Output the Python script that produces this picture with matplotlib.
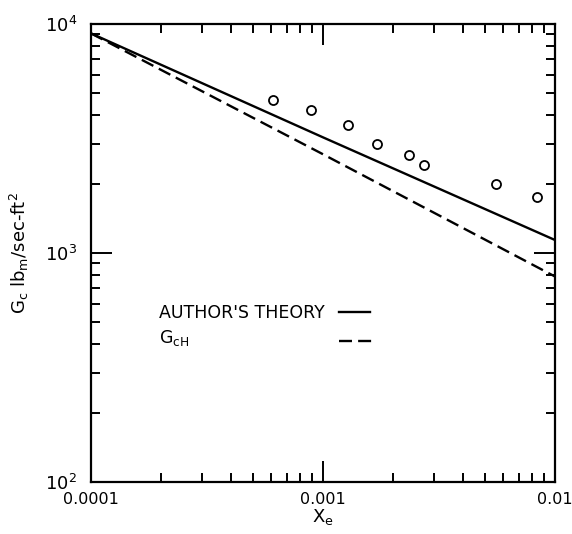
import matplotlib
matplotlib.use("Agg")
import matplotlib.pyplot as plt
from matplotlib.ticker import FixedLocator, FixedFormatter, LogLocator, NullFormatter

# Data
x_theory = [1e-4, 1e-3, 1e-2]
g_author = [9100, 3200, 1140]     # author's theory (solid)
g_ch = [9100, 2700, 790]          # G_cH (dashed)

x_exp = [6.07e-4, 8.93e-4, 1.28e-3, 1.71e-3, 2.35e-3, 2.74e-3, 5.55e-3, 8.4e-3]
g_exp = [4650, 4200, 3620, 3000, 2670, 2415, 2010, 1750]

x_ticks = [1e-4, 1e-3, 1e-2]
x_ticklabels = ["0.0001", "0.001", "0.01"]
y_ticks = [1e2, 1e3, 1e4]
y_ticklabels = [r"$10^2$", r"$10^3$", r"$10^4$"]

plt.rcParams["font.family"] = "DejaVu Sans"
plt.rcParams["font.size"] = 11.5

fig = plt.figure(figsize=(5.72, 5.34), dpi=100)
ax = fig.add_axes([0.159, 0.0974, 0.811, 0.8577])

ax.plot(x_theory, g_author, color="black", lw=1.7)
ax.plot(x_theory, g_ch, color="black", lw=1.7, dashes=(5.5, 2.6))
ax.plot(x_exp, g_exp, "o", mfc="white", mec="black", ms=6.5, mew=1.3, ls="none")

ax.set_xscale("log")
ax.set_yscale("log")
ax.set_xlim(1e-4, 1e-2)
ax.set_ylim(1e2, 1e4)

for s in ax.spines.values():
    s.set_linewidth(1.6)

ax.xaxis.set_major_locator(FixedLocator(x_ticks))
ax.xaxis.set_major_formatter(FixedFormatter(x_ticklabels))
ax.yaxis.set_major_locator(FixedLocator(y_ticks))
ax.yaxis.set_major_formatter(FixedFormatter(y_ticklabels))
ax.xaxis.set_minor_locator(LogLocator(base=10, subs=range(2, 10)))
ax.yaxis.set_minor_locator(LogLocator(base=10, subs=range(2, 10)))
ax.xaxis.set_minor_formatter(NullFormatter())
ax.yaxis.set_minor_formatter(NullFormatter())

ax.tick_params(which="both", direction="in", top=True, right=True, width=1.4, color="black")
ax.tick_params(which="major", length=15)
ax.tick_params(which="minor", length=6.5)
ax.tick_params(axis="x", which="major", pad=7)
ax.tick_params(axis="y", which="major", pad=10, labelsize=13)

ax.set_xlabel(r"X$_{\rm e}$", fontsize=13, labelpad=0)
ax.set_ylabel(r"G$_{\rm c}$ lb$_{\rm m}$/sec-ft$^2$", fontsize=13, labelpad=10)

# hand-drawn key, as in the original figure
ax.text(0.147, 0.369, "AUTHOR'S THEORY", transform=ax.transAxes, va="center", ha="left", fontsize=12.5)
ax.text(0.147, 0.315, r"G$_{\rm cH}$", transform=ax.transAxes, va="center", ha="left", fontsize=12.5)
ax.plot([0.534, 0.601], [0.371, 0.371], transform=ax.transAxes, color="black", lw=1.7)
ax.plot([0.534, 0.614], [0.308, 0.308], transform=ax.transAxes, color="black", lw=1.7, dashes=(5.5, 2.6))

fig.savefig("out.png", dpi=100)
